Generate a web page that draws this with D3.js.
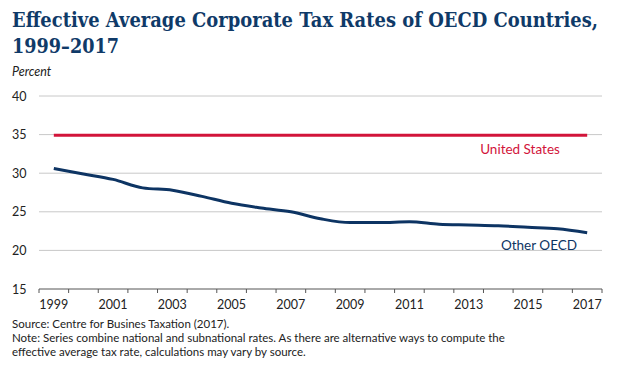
<!DOCTYPE html>
<html>
<head>
<meta charset="utf-8">
<script src="https://cdn.jsdelivr.net/npm/d3@7"></script>
<style>
  body { margin: 0; background: #fff; }
  text { font-family: "Source Sans Pro", Lato, "Noto Sans", sans-serif; }
</style>
</head>
<body>
<div id="chart"></div>
<script>
// Data
const years = d3.range(1999, 2018).map(String);
const unitedStates = [34.9, 34.9, 34.9, 34.9, 34.9, 34.9, 34.9, 34.9, 34.9, 34.9,
  34.9, 34.9, 34.9, 34.9, 34.9, 34.9, 34.9, 34.9, 34.9];
const otherOECD = [30.6, 29.9, 29.2, 28.1, 27.8, 27.0, 26.1, 25.5, 25.0, 24.1,
  23.6, 23.6, 23.7, 23.4, 23.3, 23.2, 23.0, 22.8, 22.3];
const yTicks = [15, 20, 25, 30, 35, 40];
const xLabels = ['1999', '2001', '2003', '2005', '2007', '2009', '2011', '2013', '2015', '2017'];

const W = 618, H = 372;
const margin = { left: 39, right: 16, top: 96, bottom: 83 };

const svg = d3.select('#chart').append('svg')
  .attr('width', W)
  .attr('height', H);

const x = d3.scaleBand()
  .domain(years)
  .range([margin.left, W - margin.right]);

const y = d3.scaleLinear()
  .domain([15, 40])
  .range([H - margin.bottom, margin.top]);

// Title (drawn a bit smaller, then stretched vertically to match the heavy serif)
const titleLines = [
  { text: 'Effective Average Corporate Tax Rates of OECD Countries,', y: 27, len: 586 },
  { text: '1999–2017', y: 53, len: 107 }
];
svg.append('g')
  .attr('fill', '#0f3a68')
  .selectAll('text')
  .data(titleLines)
  .join('text')
  .attr('transform', d => `translate(12,${d.y}) scale(1,1.15)`)
  .style('font-family', '"DejaVu Serif", "Liberation Serif", serif')
  .style('font-weight', 'bold')
  .style('font-size', '17.5px')
  .attr('textLength', d => d.len)
  .attr('lengthAdjust', 'spacingAndGlyphs')
  .text(d => d.text);

svg.append('text')
  .attr('x', 12).attr('y', 76)
  .style('font-style', 'italic')
  .style('font-size', '12.5px')
  .attr('fill', '#222')
  .text('Percent');

// Grid lines
svg.append('g')
  .selectAll('line')
  .data(yTicks.filter(d => d > 15))
  .join('line')
  .attr('x1', margin.left)
  .attr('x2', W - margin.right)
  .attr('y1', d => y(d))
  .attr('y2', d => y(d))
  .attr('stroke', '#c8c8c8')
  .attr('stroke-width', 1);

// Y labels
svg.append('g')
  .selectAll('text')
  .data(yTicks)
  .join('text')
  .attr('x', 12)
  .attr('y', d => y(d) + 4.5)
  .style('font-size', '12.5px')
  .attr('fill', '#222')
  .text(d => d);

// X axis
const xAxis = svg.append('g')
  .attr('transform', `translate(0,${y(15)})`);
xAxis.append('line')
  .attr('x1', margin.left)
  .attr('x2', W - margin.right)
  .attr('stroke', '#555');
xAxis.selectAll('line.tick')
  .data(years.concat(['end']))
  .join('line')
  .attr('class', 'tick')
  .attr('x1', (d, i) => margin.left + i * x.step())
  .attr('x2', (d, i) => margin.left + i * x.step())
  .attr('y1', 0)
  .attr('y2', 4)
  .attr('stroke', '#555');
xAxis.selectAll('text')
  .data(xLabels)
  .join('text')
  .attr('x', d => x(d) + x.bandwidth() / 2)
  .attr('y', 20)
  .attr('text-anchor', 'middle')
  .style('font-size', '12.5px')
  .attr('fill', '#222')
  .text(d => d);

// Lines
const line = d3.line()
  .x((d, i) => x(years[i]) + x.bandwidth() / 2)
  .y(d => y(d))
  .curve(d3.curveMonotoneX);

svg.append('path')
  .datum(unitedStates)
  .attr('d', line)
  .attr('fill', 'none')
  .attr('stroke', '#d2143a')
  .attr('stroke-width', 3);

svg.append('path')
  .datum(otherOECD)
  .attr('d', line)
  .attr('fill', 'none')
  .attr('stroke', '#0d3463')
  .attr('stroke-width', 3);

// Series labels
svg.append('text')
  .attr('x', 520).attr('y', 154)
  .attr('text-anchor', 'middle')
  .style('font-size', '13.5px')
  .attr('fill', '#d2143a')
  .text('United States');

svg.append('text')
  .attr('x', 539).attr('y', 250)
  .attr('text-anchor', 'middle')
  .style('font-size', '13.5px')
  .attr('fill', '#0d3463')
  .text('Other OECD');

// Footer
const notes = [
  'Source: Centre for Busines Taxation (2017).',
  'Note: Series combine national and subnational rates. As there are alternative ways to compute the',
  'effective average tax rate, calculations may vary by source.'
];
svg.append('g')
  .selectAll('text')
  .data(notes)
  .join('text')
  .attr('x', 12)
  .attr('y', (d, i) => 328 + i * 14)
  .style('font-size', '11.5px')
  .attr('fill', '#222')
  .text(d => d);
</script>
</body>
</html>
